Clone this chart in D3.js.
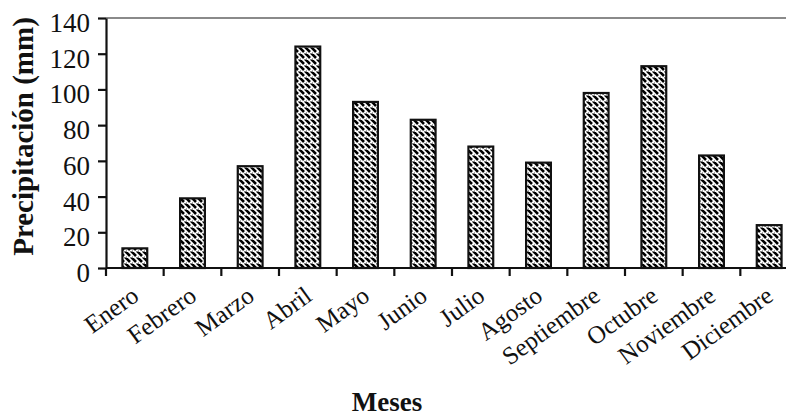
<!DOCTYPE html>
<html>
<head>
<meta charset="utf-8">
<script src="https://cdn.jsdelivr.net/npm/d3@7"></script>
<style>
  html, body { margin: 0; padding: 0; background: #fff; }
  svg { display: block; }
  text { font-family: "Liberation Serif", "Times New Roman", serif; fill: #111; }
</style>
</head>
<body>
<svg id="chart" width="786" height="417"></svg>
<script>
// Precipitación mensual (mm)
const months = ["Enero", "Febrero", "Marzo", "Abril", "Mayo", "Junio",
                "Julio", "Agosto", "Septiembre", "Octubre", "Noviembre", "Diciembre"];
const precipitation = [11, 39, 57, 124, 93, 83, 68, 59, 98, 113, 63, 24];
const yTicks = [0, 20, 40, 60, 80, 100, 120, 140];

const svg = d3.select("#chart");
const plot = { left: 106, top: 18, bottom: 268, right: 798 };

// One band per month; ticks sit on band boundaries
const band = d3.scaleBand().domain(months).range([plot.left, plot.right]);
const barFrac = 0.43;

const y = d3.scaleLinear().domain([0, 140]).range([plot.bottom, plot.top]);

// Hatched fill: diagonal dashes with small dots
const defs = svg.append("defs");
const pat = defs.append("pattern")
  .attr("id", "hatch")
  .attr("patternUnits", "userSpaceOnUse")
  .attr("width", 6).attr("height", 6);
pat.append("rect").attr("width", 6).attr("height", 6).attr("fill", "#fff");
pat.append("path")
  .attr("d", "M0,0 L4,4 M-2,4 L0,6 M4,-2 L8,2")
  .attr("stroke", "#000").attr("stroke-width", 2.6);
pat.append("rect").attr("x", 4.5).attr("y", 5).attr("width", 1).attr("height", 1).attr("fill", "#000");

// Top frame line
svg.append("line")
  .attr("x1", plot.left).attr("x2", 786)
  .attr("y1", y(140)).attr("y2", y(140))
  .attr("stroke", "#8a8a8a").attr("stroke-width", 2);

// Bars
svg.append("g").selectAll("rect")
  .data(precipitation)
  .join("rect")
  .attr("x", (d, i) => band(months[i]) + band.bandwidth() * (1 - barFrac) / 2)
  .attr("y", d => y(d))
  .attr("width", band.bandwidth() * barFrac)
  .attr("height", d => y(0) - y(d))
  .attr("fill", "url(#hatch)")
  .attr("stroke", "#111")
  .attr("stroke-width", 2.2);

// Y axis
const yAxis = svg.append("g")
  .attr("transform", `translate(${plot.left},0)`)
  .call(d3.axisLeft(y).tickValues(yTicks).tickSize(8).tickPadding(8).tickSizeOuter(0));
yAxis.select(".domain").attr("stroke", "#111").attr("stroke-width", 2.2);
yAxis.selectAll(".tick line").attr("stroke", "#111").attr("stroke-width", 2.2);
yAxis.selectAll(".tick text")
  .attr("font-size", 27)
  .attr("dy", "0.5em")
  .attr("fill", "#111");

// X axis (ticks between categories)
const bounds = months.map(m => band(m)).concat([plot.right]);
const xAxis = svg.append("g");
xAxis.append("line")
  .attr("x1", plot.left).attr("x2", 786)
  .attr("y1", y(0)).attr("y2", y(0))
  .attr("stroke", "#111").attr("stroke-width", 2.2);
xAxis.selectAll("line.tk")
  .data(bounds)
  .join("line")
  .attr("class", "tk")
  .attr("x1", d => d).attr("x2", d => d)
  .attr("y1", y(0)).attr("y2", y(0) + 8)
  .attr("stroke", "#111").attr("stroke-width", 2.2);

// Rotated month labels
svg.append("g").selectAll("text")
  .data(months)
  .join("text")
  .attr("transform", m => `translate(${band(m) + band.bandwidth() / 2 - 1},${y(0) + 22}) rotate(-36)`)
  .attr("text-anchor", "end")
  .attr("dy", "0.45em")
  .attr("font-size", 25)
  .text(d => d);

// Axis titles
svg.append("text")
  .attr("transform", `translate(33,${(15 + 258) / 2}) rotate(-90)`)
  .attr("text-anchor", "middle")
  .attr("font-size", 29)
  .attr("font-weight", "bold")
  .text("Precipitación (mm)");

svg.append("text")
  .attr("x", 387).attr("y", 411)
  .attr("text-anchor", "middle")
  .attr("font-size", 27)
  .attr("font-weight", "bold")
  .text("Meses");
</script>
</body>
</html>
